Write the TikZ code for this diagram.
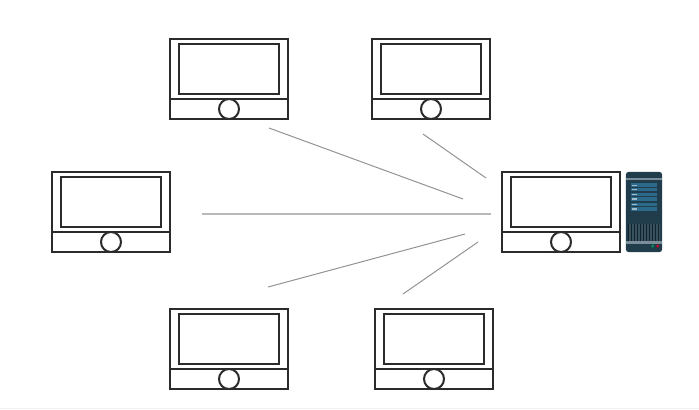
\documentclass[tikz,border=0pt]{standalone}
\usepackage{tikz}
\usetikzlibrary{positioning}

\definecolor{serverdark}{HTML}{213D4C}
\definecolor{serverblue}{HTML}{2B6A8A}
\definecolor{serverbar}{HTML}{7A8D98}
\definecolor{framegray}{HTML}{2B2B2B}
\tikzset{
  frame/.style={draw=framegray, line width=0.05cm, inner sep=0pt, outer sep=0pt, fill=white},
  body/.style={frame, minimum width=2.95cm, minimum height=1.5cm},
  panel/.style={frame, minimum width=2.95cm, minimum height=0.5cm},
  screen/.style={frame, minimum width=2.5cm, minimum height=1.25cm},
  knob/.style={frame, circle, minimum size=0.5cm},
  link/.style={draw=gray!85, line width=0.025cm}
}

\begin{document}
\begin{tikzpicture}[x=0.025cm, y=-0.025cm, line cap=butt, line join=miter]

\useasboundingbox (0,0) rectangle (699,409);
\draw[gray!12, line width=0.025cm] (0,408) -- (699,408);

% monitors
\foreach \name/\x/\y in {monA/229/69, monB/431/69, monC/111/202, monD/561/202, monE/229/339, monF/434/339} {
  \node[body] (\name) at (\x,\y) {};
  \node[panel, below=0cm of \name] (\name panel) {};
  \node[screen, below=0.125cm of \name.north] (\name screen) {};
  \node[knob] (\name knob) at (\name panel) {};
}

% server
\node[fill=serverdark, rounded corners=0.06cm, minimum width=0.9cm, minimum height=2cm, inner sep=0pt] (server) at (644,212) {};
\fill[serverbar] (626,178) rectangle (662,180);
\fill[serverbar] (626,240.7) rectangle (662,243.5);
\foreach \y in {183.3,187.6,192.7,197,202.7,207} {
  \fill[serverblue] (630.7,\y) rectangle (657,\y+3.6);
  \fill[white!55!serverblue] (631.5,\y+1.2) rectangle (636.5,\y+2.6);
}
\fill[black!45!serverdark] (628,224) rectangle (660,240.7);
\foreach \x in {629,630.5,...,659} {
  \draw[serverbar!25!serverdark, line width=0.012cm] (\x,224) -- (\x,240.7);
}
\fill[green!25!teal!80!serverdark] (652.7,246) circle (1.7);
\fill[red!55!purple!80!serverdark] (657.7,246) circle (1.7);

% links
\coordinate (a1) at (269,128);
\coordinate (a2) at (463,199);
\coordinate (b1) at (423,134);
\coordinate (b2) at (486,178);
\coordinate (c1) at (202,214);
\coordinate (c2) at (491,214);
\coordinate (e1) at (268,287);
\coordinate (e2) at (465,234);
\coordinate (f1) at (403,294);
\coordinate (f2) at (478,242);
\draw[link] (a1) -- (a2);
\draw[link] (b1) -- (b2);
\draw[link, draw=gray!55, line width=0.04cm] (c1) -- (c2);
\draw[link] (e1) -- (e2);
\draw[link] (f1) -- (f2);

\end{tikzpicture}
\end{document}
